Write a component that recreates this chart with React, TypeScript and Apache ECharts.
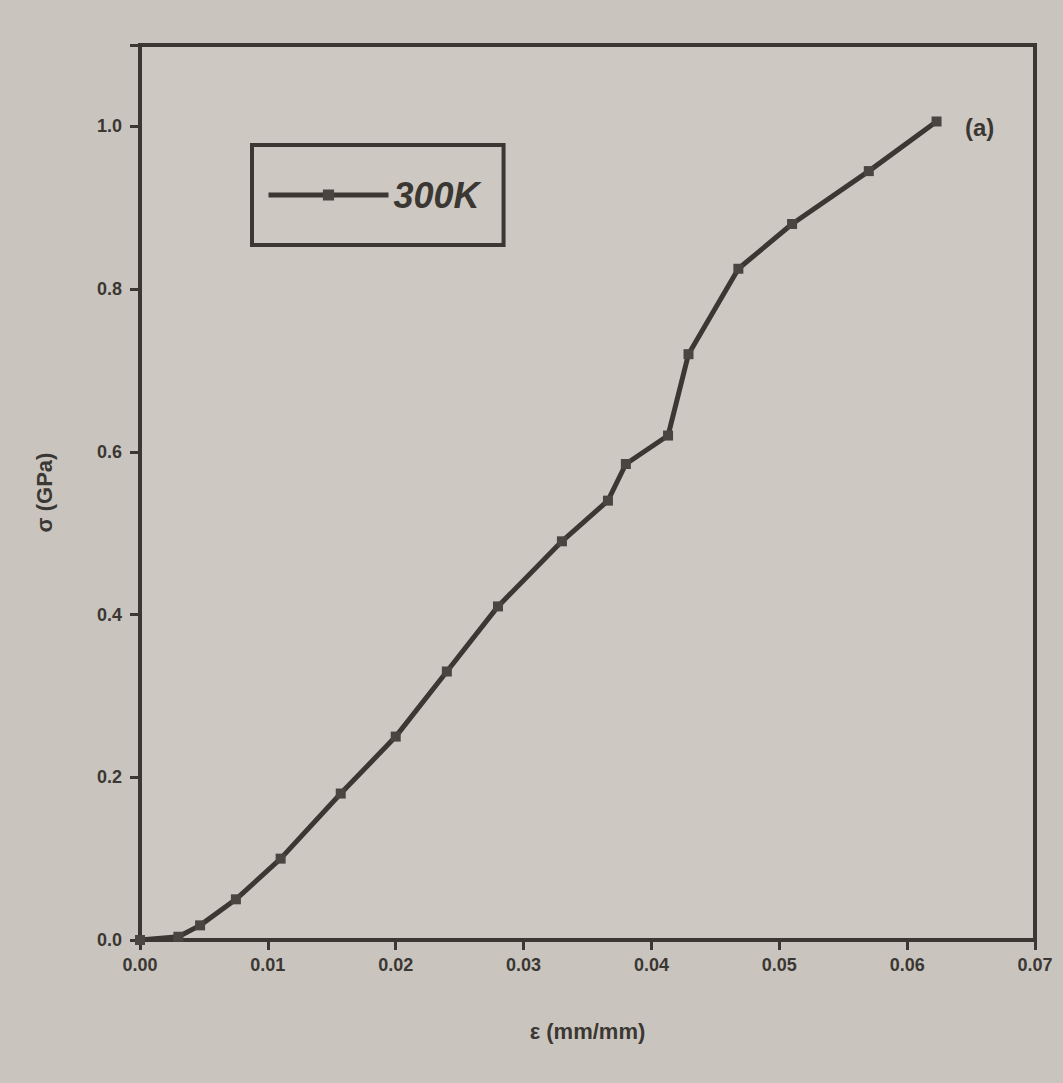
import React, { useEffect, useRef } from "react";
import * as echarts from "echarts";

const strain = [0, 0.003, 0.0047, 0.0075, 0.011, 0.0157, 0.020, 0.024, 0.028, 0.033, 0.0366, 0.038, 0.0413, 0.0429, 0.0468, 0.051, 0.057, 0.0623];
const stress = [0, 0.004, 0.018, 0.05, 0.10, 0.18, 0.25, 0.33, 0.41, 0.49, 0.54, 0.585, 0.62, 0.72, 0.825, 0.88, 0.945, 1.006];
const seriesName = "300K";
const xTitle = "ε (mm/mm)";
const yTitle = "σ (GPa)";
const panelLabel = "(a)";

export default function App() {
  const ref = useRef<HTMLDivElement>(null);
  useEffect(() => {
    document.body.style.margin = "0";
    document.body.style.background = "#c9c5be";
    const chart = echarts.init(ref.current!, null, { renderer: "svg" });
    const ink = "#3b3733";
    const data = strain.map((x, i) => [x, stress[i]]);
    chart.setOption({
      animation: false,
      backgroundColor: "#c9c5be",
      textStyle: { fontFamily: "Liberation Sans" },
      grid: { left: 140, right: 28, top: 45, bottom: 143, show: true, borderColor: ink, borderWidth: 4, backgroundColor: "#cdc9c2" },
      legend: {
        left: 252, top: 145,
        orient: "horizontal",
        data: [seriesName],
        itemWidth: 120, itemHeight: 14, itemGap: 10,
        padding: [32, 24, 32, 14],
        borderColor: ink, borderWidth: 4,
        lineStyle: { width: 5, color: ink },
        textStyle: { fontSize: 36, color: ink, fontStyle: "italic", fontWeight: "bold" },
      },
      xAxis: [
        {
          type: "value", min: 0, max: 0.07, interval: 0.01,
          name: xTitle, nameLocation: "middle", nameGap: 80,
          nameTextStyle: { fontSize: 22, color: ink, fontWeight: "bold" },
          axisLine: { onZero: false, lineStyle: { color: ink, width: 4 } },
          axisTick: { inside: false, length: 10, lineStyle: { color: ink, width: 3 } },
          axisLabel: { fontSize: 18, color: ink, fontWeight: "bold", margin: 16, formatter: (v: number) => v.toFixed(2) },
          splitLine: { show: false },
        },
        {
          type: "value", position: "top", min: 0, max: 0.07, interval: 0.01,
          axisLine: { lineStyle: { color: ink, width: 4 } },
          axisTick: { inside: true, length: 8, lineStyle: { color: ink, width: 3 } },
          axisLabel: { show: false }, splitLine: { show: false },
        },
      ],
      yAxis: [
        {
          type: "value", min: 0, max: 1.1, interval: 0.2,
          name: yTitle, nameLocation: "middle", nameGap: 85, nameRotate: 90,
          nameTextStyle: { fontSize: 22, color: ink, fontWeight: "bold" },
          axisLine: { onZero: false, lineStyle: { color: ink, width: 4 } },
          axisTick: { inside: false, length: 10, lineStyle: { color: ink, width: 3 } },
          axisLabel: {
            fontSize: 18, color: ink, fontWeight: "bold", margin: 18,
            formatter: (v: number) => (Math.abs(v * 5 - Math.round(v * 5)) < 1e-6 ? v.toFixed(1) : ""),
          },
          splitLine: { show: false },
        },
        {
          type: "value", position: "right", min: 0, max: 1.1, interval: 0.2,
          axisLine: { lineStyle: { color: ink, width: 4 } },
          axisTick: { inside: true, length: 8, lineStyle: { color: ink, width: 3 } },
          axisLabel: { show: false }, splitLine: { show: false },
        },
      ],
      series: [
        {
          name: seriesName, type: "line", data,
          symbol: "rect", symbolSize: 10,
          lineStyle: { color: ink, width: 5 },
          itemStyle: { color: "#4a4540" },
        },
      ],
      graphic: [
        { type: "text", left: 965, top: 115, style: { text: panelLabel, fontSize: 24, fontWeight: "bold", fill: ink } },
      ],
    });
    return () => chart.dispose();
  }, []);
  return <div ref={ref} style={{ width: 1063, height: 1083 }} />;
}
